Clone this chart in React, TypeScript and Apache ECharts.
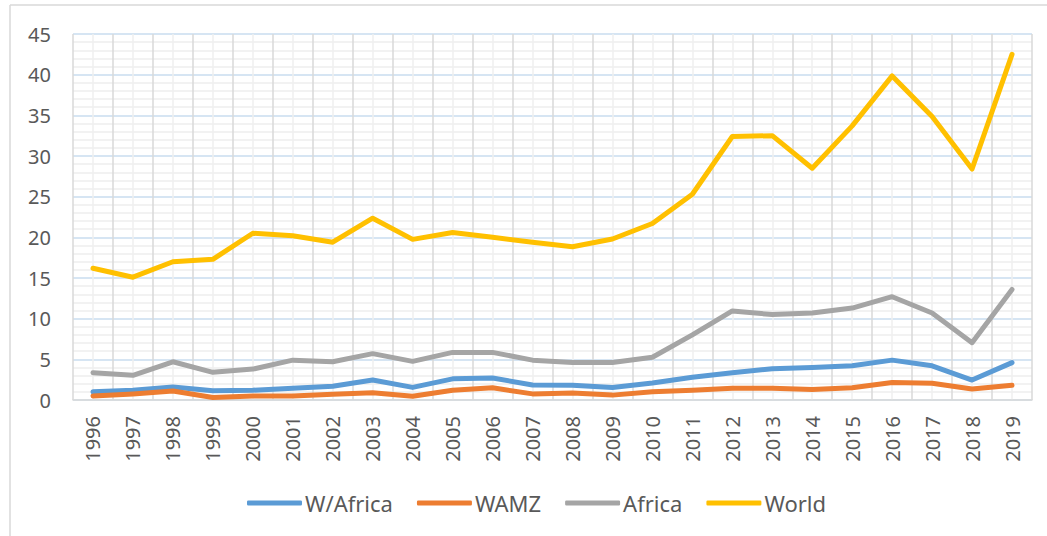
import React, { useEffect, useRef } from "react";
import * as echarts from "echarts";

const years = ["1996","1997","1998","1999","2000","2001","2002","2003","2004","2005","2006","2007","2008","2009","2010","2011","2012","2013","2014","2015","2016","2017","2018","2019"];
const wAfrica = [1.0,1.2,1.6,1.15,1.2,1.45,1.7,2.45,1.55,2.6,2.7,1.85,1.8,1.55,2.1,2.8,3.35,3.85,4.0,4.2,4.9,4.2,2.45,4.6];
const wamz = [0.5,0.75,1.1,0.3,0.5,0.5,0.7,0.9,0.45,1.2,1.5,0.75,0.85,0.6,1.0,1.2,1.45,1.45,1.3,1.5,2.15,2.05,1.35,1.8];
const africa = [3.36,3.03,4.7,3.4,3.8,4.9,4.7,5.7,4.75,5.85,5.85,4.9,4.6,4.6,5.25,8.0,10.95,10.5,10.7,11.3,12.7,10.7,7.05,13.6];
const world = [16.2,15.1,17.0,17.3,20.5,20.2,19.4,22.35,19.75,20.6,20.0,19.4,18.85,19.8,21.7,25.3,32.4,32.5,28.5,33.7,39.85,34.85,28.4,42.5];
const seriesNames = ["W/Africa", "WAMZ", "Africa", "World"];
const seriesColors = ["#5b9bd5", "#ed7d31", "#a5a5a5", "#ffc000"];

export default function App() {
  const ref = useRef<HTMLDivElement>(null);
  useEffect(() => {
    if (!ref.current) return;
    const chart = echarts.init(ref.current, undefined, { renderer: "svg" });
    const font = "'Noto Sans', sans-serif";
    const datasets = [wAfrica, wamz, africa, world];
    chart.setOption({
      animation: false,
      backgroundColor: "#ffffff",
      textStyle: { fontFamily: font },
      grid: { left: 73, right: 15, top: 34, bottom: 136, containLabel: false },
      legend: {
        data: seriesNames,
        top: 487,
        left: 242,
        icon: "roundRect",
        itemWidth: 55,
        itemHeight: 5,
        itemGap: 24,
        textStyle: { fontFamily: font, fontSize: 22, color: "#595959", padding: [0, 0, 0, -2] },
      },
      xAxis: [
        {
          type: "category",
          data: years,
          boundaryGap: true,
          axisLine: { show: true, lineStyle: { color: "#d9d9d9", width: 1.5 } },
          axisTick: { show: false },
          splitLine: { show: false },
          axisLabel: { rotate: 90, margin: 16, fontSize: 20, color: "#595959", fontFamily: font, interval: 0 },
        },
        {
          type: "value",
          min: 0,
          max: 24,
          interval: 1,
          show: true,
          position: "bottom",
          axisLine: { show: false },
          axisTick: { show: false },
          axisLabel: { show: false },
          splitLine: { show: true, lineStyle: { color: "#d9d9d9", width: 1.5 } },
          minorTick: { show: false, splitNumber: 2 },
          minorSplitLine: { show: true, lineStyle: { color: "#efefef", width: 1.5 } },
        },
      ],
      yAxis: {
        type: "value",
        min: 0,
        max: 45,
        interval: 5,
        axisLine: { show: false },
        axisTick: { show: false },
        axisLabel: { margin: 22, fontSize: 20, color: "#595959", fontFamily: font },
        splitLine: { show: true, lineStyle: { color: "#c9dcef", width: 1.5 } },
        minorTick: { show: false, splitNumber: 5 },
        minorSplitLine: { show: true, lineStyle: { color: "#eeeeee", width: 1.5 } },
      },
      graphic: [
        { type: "line", shape: { x1: 10, y1: 5, x2: 1047, y2: 5 }, style: { stroke: "#d9d9d9", lineWidth: 1.5 }, silent: true },
        { type: "line", shape: { x1: 10, y1: 5, x2: 10, y2: 536 }, style: { stroke: "#d9d9d9", lineWidth: 1.5 }, silent: true },
      ],
      series: datasets.map((d, i) => ({
        name: seriesNames[i],
        type: "line",
        xAxisIndex: 0,
        data: d,
        showSymbol: false,
        symbol: "none",
        color: seriesColors[i],
        lineStyle: { width: 5, color: seriesColors[i], cap: "round", join: "round" },
        z: 3,
      })),
    });
    return () => chart.dispose();
  }, []);
  return (
    <div
      ref={ref}
      style={{ position: "fixed", left: 0, top: 0, width: 1047, height: 536, background: "#fff" }}
    />
  );
}
